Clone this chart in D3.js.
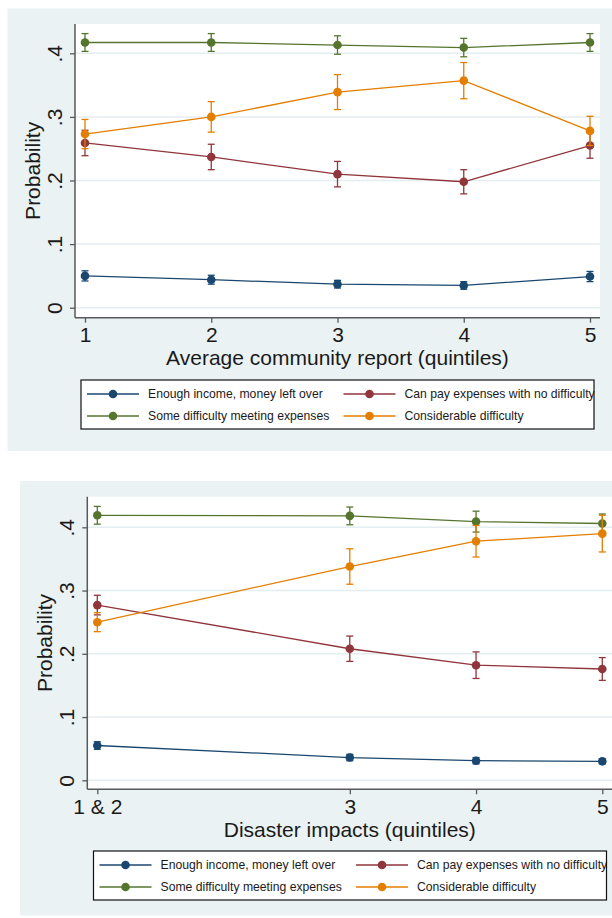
<!DOCTYPE html>
<html>
<head>
<meta charset="utf-8">
<script src="https://cdn.jsdelivr.net/npm/d3@7"></script>
<style>
  html, body { margin: 0; padding: 0; background: #ffffff; }
  svg { display: block; font-family: "Liberation Sans", Arial, Helvetica, sans-serif; }
</style>
</head>
<body>
<svg id="chart" width="612" height="918"></svg>
<script>
// Outcome categories and their plotting colours
const seriesNames = [
  "Enough income, money left over",
  "Can pay expenses with no difficulty",
  "Some difficulty meeting expenses",
  "Considerable difficulty"
];
const seriesColors = ["#1a476f", "#90353b", "#55752f", "#e37e00"];

// Probability axis
const yTicks = [0, 0.1, 0.2, 0.3, 0.4];
const yTickLabels = ["0", ".1", ".2", ".3", ".4"];

// Top panel: average community report (quintiles)
const communityX = [1, 2, 3, 4, 5];
const communityLabels = ["1", "2", "3", "4", "5"];
const communityEnough = [0.050, 0.044, 0.037, 0.035, 0.049];
const communityEnoughErr = [0.008, 0.007, 0.006, 0.006, 0.008];
const communityCanPay = [0.259, 0.237, 0.210, 0.198, 0.255];
const communityCanPayErr = [0.020, 0.020, 0.020, 0.019, 0.020];
const communitySome = [0.417, 0.417, 0.413, 0.409, 0.417];
const communitySomeErr = [0.014, 0.014, 0.0145, 0.0145, 0.014];
const communityConsiderable = [0.273, 0.300, 0.339, 0.357, 0.278];
const communityConsiderableErr = [0.023, 0.024, 0.0275, 0.0285, 0.023];

// Bottom panel: disaster impacts (quintiles, first two pooled)
const disasterX = [1, 3, 4, 5];
const disasterLabels = ["1 & 2", "3", "4", "5"];
const disasterEnough = [0.055, 0.036, 0.031, 0.030];
const disasterEnoughErr = [0.006, 0.005, 0.005, 0.004];
const disasterCanPay = [0.277, 0.208, 0.182, 0.176];
const disasterCanPayErr = [0.0155, 0.020, 0.021, 0.018];
const disasterSome = [0.419, 0.418, 0.409, 0.406];
const disasterSomeErr = [0.014, 0.014, 0.0165, 0.015];
const disasterConsiderable = [0.250, 0.338, 0.378, 0.390];
const disasterConsiderableErr = [0.015, 0.028, 0.025, 0.029];

const svg = d3.select("#chart");
const textColor = "#1a1a1a";
const axisColor = "#595959";
const bgColor = "#eaf2f3";
const gridColor = "#e4edf0";

function drawPanel(spec) {
  const g = svg.append("g");

  // graph region and plot region
  g.append("rect")
    .attr("x", spec.bg.x).attr("y", spec.bg.y)
    .attr("width", spec.bg.w).attr("height", spec.bg.h)
    .attr("fill", bgColor);
  g.append("rect")
    .attr("x", spec.plot.l).attr("y", spec.plot.t)
    .attr("width", spec.plot.r - spec.plot.l).attr("height", spec.plot.b - spec.plot.t)
    .attr("fill", "#ffffff");

  const x = d3.scaleLinear().domain([1, 5]).range([spec.plot.l + 10, spec.plot.r - 10]);
  const y = d3.scaleLinear().domain([0, 0.4]).range([spec.y0, spec.y4]);

  // horizontal grid
  g.append("g").selectAll("line").data(yTicks).join("line")
    .attr("x1", spec.plot.l).attr("x2", spec.plot.r)
    .attr("y1", d => y(d)).attr("y2", d => y(d))
    .attr("stroke", gridColor).attr("stroke-width", 1.5);

  // series: confidence bars, connecting line, markers
  spec.series.forEach((s, si) => {
    const color = seriesColors[si];
    const pts = spec.xs.map((xv, i) => ({ x: xv, v: s.values[i], e: s.err[i] }));
    const sg = g.append("g");
    const eb = sg.append("g").attr("stroke", color).attr("stroke-width", 1.3).attr("fill", "none");
    pts.forEach(p => {
      const cx = x(p.x), yt = y(p.v + p.e), yb = y(p.v - p.e);
      eb.append("line").attr("x1", cx).attr("x2", cx).attr("y1", yt).attr("y2", yb);
      eb.append("line").attr("x1", cx - 3.5).attr("x2", cx + 3.5).attr("y1", yt).attr("y2", yt);
      eb.append("line").attr("x1", cx - 3.5).attr("x2", cx + 3.5).attr("y1", yb).attr("y2", yb);
    });
    sg.append("path")
      .datum(pts)
      .attr("fill", "none").attr("stroke", color).attr("stroke-width", 1.3)
      .attr("d", d3.line().x(d => x(d.x)).y(d => y(d.v)));
    sg.selectAll("circle").data(pts).join("circle")
      .attr("cx", d => x(d.x)).attr("cy", d => y(d.v)).attr("r", 4.3)
      .attr("fill", color);
  });

  // y axis
  const yAxis = g.append("g").attr("transform", `translate(${spec.plot.l},0)`)
    .call(d3.axisLeft(y).tickValues(yTicks).tickFormat((d, i) => yTickLabels[i]).tickSize(5).tickSizeOuter(0));
  yAxis.select(".domain").remove();
  yAxis.selectAll(".tick line").attr("stroke", axisColor).attr("stroke-width", 1.3);
  yAxis.selectAll(".tick text")
    .attr("x", null).attr("dy", null)
    .attr("transform", "translate(-13,0) rotate(-90)")
    .attr("text-anchor", "middle")
    .attr("fill", textColor)
    .style("font-size", "21px");
  g.append("line")
    .attr("x1", spec.plot.l).attr("x2", spec.plot.l)
    .attr("y1", spec.plot.t).attr("y2", spec.plot.b)
    .attr("stroke", axisColor).attr("stroke-width", 1.5);

  // x axis
  const xAxis = g.append("g").attr("transform", `translate(0,${spec.plot.b})`)
    .call(d3.axisBottom(x).tickValues(spec.xs).tickFormat((d, i) => spec.labels[i]).tickSize(5).tickSizeOuter(0));
  xAxis.select(".domain").remove();
  xAxis.selectAll(".tick line").attr("stroke", axisColor).attr("stroke-width", 1.3);
  xAxis.selectAll(".tick text")
    .attr("y", 24.5).attr("dy", null)
    .attr("fill", textColor)
    .style("font-size", "21px");
  g.append("line")
    .attr("x1", spec.plot.l).attr("x2", spec.plot.r)
    .attr("y1", spec.plot.b).attr("y2", spec.plot.b)
    .attr("stroke", axisColor).attr("stroke-width", 1.5);

  // axis titles
  g.append("text")
    .attr("x", (spec.plot.l + spec.plot.r) / 2).attr("y", spec.plot.b + 47.5)
    .attr("text-anchor", "middle").attr("fill", textColor)
    .style("font-size", "21px")
    .text(spec.xTitle);
  g.append("text")
    .attr("transform", `translate(${spec.plot.l - 35},${(spec.plot.t + spec.plot.b) / 2}) rotate(-90)`)
    .attr("text-anchor", "middle").attr("fill", textColor)
    .style("font-size", "21px")
    .text("Probability");

  // legend
  const lg = g.append("g");
  lg.append("rect")
    .attr("x", spec.legend.x).attr("y", spec.legend.y)
    .attr("width", spec.legend.w).attr("height", spec.legend.h)
    .attr("fill", "#ffffff").attr("stroke", "#111111").attr("stroke-width", 1.2);
  seriesNames.forEach((name, i) => {
    const col = i % 2, row = Math.floor(i / 2);
    const lx = spec.legend.x + 6 + col * 256.5;
    const ly = spec.legend.y + 14 + row * 22;
    lg.append("line")
      .attr("x1", lx).attr("x2", lx + 52).attr("y1", ly).attr("y2", ly)
      .attr("stroke", seriesColors[i]).attr("stroke-width", 1.3);
    lg.append("circle").attr("cx", lx + 26).attr("cy", ly).attr("r", 4.3).attr("fill", seriesColors[i]);
    lg.append("text")
      .attr("x", lx + 61).attr("y", ly + 4.3)
      .attr("fill", textColor)
      .style("font-size", "12.2px")
      .text(name);
  });
}

function seriesFor(values, errs) {
  return values.map((v, i) => ({ values: v, err: errs[i] }));
}

drawPanel({
  bg: { x: 7.5, y: 8.5, w: 605, h: 442.5 },
  plot: { l: 75, r: 600, t: 24, b: 317.7 },
  y0: 307.7, y4: 53.3,
  xs: communityX, labels: communityLabels,
  xTitle: "Average community report (quintiles)",
  legend: { x: 81, y: 380, w: 513, h: 49 },
  series: seriesFor(
    [communityEnough, communityCanPay, communitySome, communityConsiderable],
    [communityEnoughErr, communityCanPayErr, communitySomeErr, communityConsiderableErr])
});

drawPanel({
  bg: { x: 20, y: 481, w: 592, h: 434.5 },
  plot: { l: 87.3, r: 612.3, t: 496.7, b: 789.3 },
  y0: 780.3, y4: 527.3,
  xs: disasterX, labels: disasterLabels,
  xTitle: "Disaster impacts (quintiles)",
  legend: { x: 93.5, y: 851, w: 513, h: 49 },
  series: seriesFor(
    [disasterEnough, disasterCanPay, disasterSome, disasterConsiderable],
    [disasterEnoughErr, disasterCanPayErr, disasterSomeErr, disasterConsiderableErr])
});
</script>
</body>
</html>
